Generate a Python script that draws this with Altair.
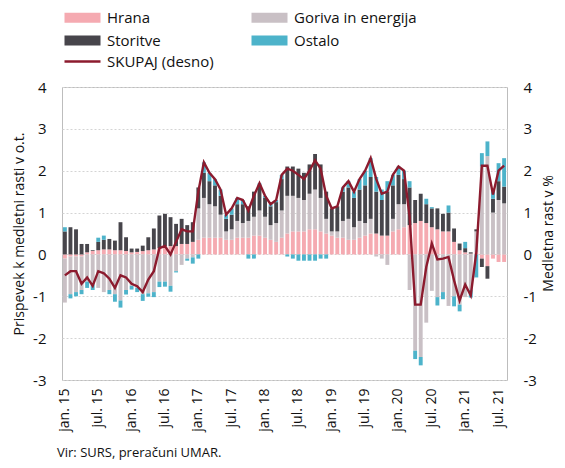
import altair as alt
import pandas as pd

meseci = ["jan", "feb", "mar", "apr", "maj", "jun", "jul", "avg", "sep", "okt", "nov", "dec"]
leta = ["15", "16", "17", "18", "19", "20", "21"]
mesec = [f"{m}. {y}" for y in leta for m in meseci][:80]

hrana = [-0.10, -0.05, -0.05, -0.05, 0.05, 0.08, 0.10, 0.12, 0.12, 0.10, 0.10, 0.08,
         0.05, 0.06, 0.08, 0.10, 0.12, 0.15, 0.20, 0.20, 0.20, 0.25, 0.25, 0.30,
         0.35, 0.40, 0.40, 0.40, 0.40, 0.35, 0.35, 0.40, 0.40, 0.40, 0.45, 0.45,
         0.40, 0.35, 0.30, 0.40, 0.50, 0.55, 0.55, 0.55, 0.60, 0.60, 0.55, 0.50,
         0.45, 0.40, 0.40, 0.35, 0.35, 0.40, 0.45, 0.50, 0.50, 0.45, 0.45, 0.55,
         0.60, 0.65, 0.70, 0.75, 0.80, 0.75, 0.65, 0.60, 0.55, 0.55, 0.30, 0.10,
         0.05, 0.02, 0.05, -0.10, -0.28, -0.10, -0.18, -0.18]
goriva = [-1.05, -0.90, -0.85, -0.80, -0.65, -0.72, -0.80, -0.90, -0.85, -0.95, -1.10, -0.85,
          -0.75, -0.80, -0.95, -0.93, -0.90, -0.65, -0.65, -0.75, -0.40, -0.25, -0.10, -0.07,
          0.75, 0.95, 0.80, 0.75, 0.55, 0.20, 0.25, 0.40, 0.35, 0.40, 0.45, 0.60,
          0.50, 0.35, 0.45, 0.65, 0.90, 0.85, 0.80, 0.75, 0.85, 0.95, 0.80, 0.35,
          0.10, 0.15, 0.40, 0.50, 0.30, 0.40, 0.30, 0.35, -0.05, -0.10, -0.25, 0.30,
          0.60, 0.55, -0.85, -2.30, -2.45, -1.63, -0.87, -1.02, -0.90, -1.23, -1.00, -1.20,
          -1.02, -0.85, 0.50, 2.10, 2.35, 1.00, 1.30, 1.22]
storitve = [0.55, 0.65, 0.60, 0.25, 0.20, 0.02, 0.20, 0.23, 0.25, 0.23, 0.67, 0.33,
            0.09, 0.08, 0.13, 0.31, 0.50, 0.78, 0.77, 0.69, 0.53, 0.60, 0.45, 0.47,
            0.50, 0.60, 0.55, 0.50, 0.45, 0.30, 0.35, 0.40, 0.45, 0.35, 0.60, 0.60,
            0.45, 0.45, 0.50, 0.75, 0.70, 0.70, 0.70, 0.65, 0.70, 0.85, 0.80, 0.65,
            0.55, 0.60, 0.70, 0.75, 0.70, 0.75, 0.90, 1.00, 1.00, 0.85, 1.05, 0.80,
            0.70, 0.60, 0.90, 0.55, 0.65, 0.45, 0.45, 0.50, 0.42, 0.45, 0.32, 0.16,
            0.10, 0.03, 0.05, -0.20, -0.30, 0.33, 0.45, 0.40]
ostalo = [0.10, -0.10, -0.10, -0.10, -0.15, -0.13, 0.10, 0.10, -0.10, -0.18, -0.17, -0.11,
          -0.09, -0.10, -0.16, -0.08, -0.12, -0.13, -0.12, -0.14, -0.03, 0.00, -0.05, -0.15,
          -0.10, 0.25, 0.20, 0.15, 0.15, 0.10, 0.15, 0.15, 0.10, -0.10, -0.10, 0.05,
          0.05, 0.05, 0.05, 0.10, -0.05, -0.10, -0.15, -0.15, -0.15, -0.15, -0.10, -0.10,
          0.00, 0.00, 0.10, 0.15, 0.15, 0.25, 0.35, 0.45, 0.35, 0.25, 0.25, 0.25,
          0.20, 0.20, 0.15, -0.20, -0.20, 0.13, 0.03, -0.20, -0.17, 0.17, -0.24, -0.16,
          0.15, -0.18, -0.55, 0.32, 0.35, 0.20, 0.43, 0.68]
skupaj = [-0.50, -0.40, -0.40, -0.70, -0.55, -0.75, -0.40, -0.45, -0.58, -0.80, -0.50, -0.55,
          -0.70, -0.76, -0.90, -0.60, -0.40, 0.15, 0.20, 0.00, 0.30, 0.60, 0.55, 0.55,
          1.50, 2.20, 1.95, 1.80, 1.55, 0.95, 1.10, 1.35, 1.30, 1.05, 1.40, 1.70,
          1.40, 1.20, 1.30, 1.90, 2.05, 2.00, 1.90, 1.80, 2.00, 2.25, 2.05, 1.40,
          1.10, 1.15, 1.60, 1.75, 1.50, 1.80, 2.00, 2.30, 1.80, 1.45, 1.50, 1.90,
          2.10, 2.00, 0.90, -1.20, -1.20, -0.30, 0.26, -0.12, -0.10, -0.06, -0.62, -1.10,
          -0.72, -0.98, 0.05, 2.12, 2.12, 1.43, 2.00, 2.12]

# stacking order (from zero outward)
skupine = ["Hrana", "Goriva in energija", "Storitve", "Ostalo"]
serije = [hrana, goriva, storitve, ostalo]
# legend order (column-major fill: Hrana/Storitve in col 1, Goriva/Ostalo in col 2)
legenda = ["Hrana", "Storitve", "Goriva in energija", "Ostalo"]
barve = ["#f5aab1", "#47454b", "#c9c0c5", "#4db3ca"]

rows = []
for k, (ime, vals) in enumerate(zip(skupine, serije)):
    for m, v in zip(mesec, vals):
        rows.append({"mesec": m, "skupina": ime, "red": k, "vrednost": v})
df_bars = pd.DataFrame(rows)
df_line = pd.DataFrame({"mesec": mesec, "skupaj": skupaj, "serija": "SKUPAJ (desno)"})

FONT = "Open Sans"
TXT = "#111111"
label_expr = "(indexof(datum.value,'jan')==0 || indexof(datum.value,'jul')==0) ? datum.value : ''"
num_expr = "replace(datum.label, '\u2212', '-')"

x_enc = alt.X(
    "mesec:N", sort=mesec,
    scale=alt.Scale(paddingInner=0.3, paddingOuter=0.17),
    axis=alt.Axis(labelExpr=label_expr, labelAngle=-90, ticks=False, domain=False,
                  grid=False, title=None, labelFontSize=14, labelPadding=8,
                  labelFont=FONT, labelColor=TXT, labelBaseline="middle"),
)

bars = alt.Chart(df_bars).mark_bar().encode(
    x=x_enc,
    y=alt.Y("vrednost:Q", stack="zero",
            scale=alt.Scale(domain=[-3, 4], nice=False),
            axis=alt.Axis(values=list(range(-3, 5)), title="Prispevek k medletni rasti v o.t.",
                          titleFontSize=14, titleFont=FONT, titleFontWeight="normal",
                          titleColor=TXT, titlePadding=6,
                          labelFontSize=15, labelFont=FONT, labelColor=TXT, labelExpr=num_expr,
                          labelPadding=16, ticks=False, domain=False,
                          grid=True, gridColor="#d4d4d4", gridDash=[2, 2], gridWidth=1)),
    color=alt.Color("skupina:N", scale=alt.Scale(domain=legenda, range=barve),
                    legend=alt.Legend(title=None, orient="none", legendX=13, legendY=-77,
                                      columns=2, columnPadding=90, rowPadding=7,
                                      symbolType="M-3,-0.85H3V0.85H-3Z", symbolSize=144,
                                      symbolStrokeWidth=0, symbolOpacity=1,
                                      labelFontSize=15, labelFont=FONT, labelColor=TXT,
                                      labelOffset=17, padding=0)),
    order=alt.Order("red:Q", sort="ascending"),
)

line = alt.Chart(df_line).mark_line(strokeWidth=2.4).encode(
    x=x_enc,
    y=alt.Y("skupaj:Q", scale=alt.Scale(domain=[-3, 4], nice=False),
            axis=alt.Axis(orient="right", values=list(range(-3, 5)), title="Medletna rast v %",
                          titleFontSize=14, titleFont=FONT, titleFontWeight="normal",
                          titleColor=TXT, titleAngle=270, titleX=41, titleY=146,
                          titleAlign="center", titleBaseline="middle",
                          labelFontSize=15, labelFont=FONT, labelColor=TXT, labelExpr=num_expr,
                          labelPadding=16, ticks=False, domain=False, grid=False)),
    stroke=alt.Stroke("serija:N", scale=alt.Scale(range=["#8c1b2e"]),
                      legend=alt.Legend(title=None, orient="none", legendX=13, legendY=-33,
                                        symbolType="M-3,0H3", symbolSize=144,
                                        symbolStrokeWidth=2.5,
                                        labelFontSize=15, labelFont=FONT, labelColor=TXT,
                                        labelOffset=17, padding=0)),
)

chart = alt.layer(bars, line).resolve_scale(y="independent", color="independent").properties(
    width=445, height=293,
    title=alt.TitleParams("Vir: SURS, preračuni UMAR.", orient="bottom", anchor="start",
                          frame="group", fontSize=13, font=FONT, fontWeight="normal",
                          color=TXT, offset=16, dx=-5),
    padding={"left": 54, "top": 79, "right": 50, "bottom": 80},
    autosize=alt.AutoSizeParams(type="none"),
).configure_view(stroke="#bdbdbd", strokeWidth=1)

chart.save("out.html", embed_options={"renderer": "svg", "actions": False})
